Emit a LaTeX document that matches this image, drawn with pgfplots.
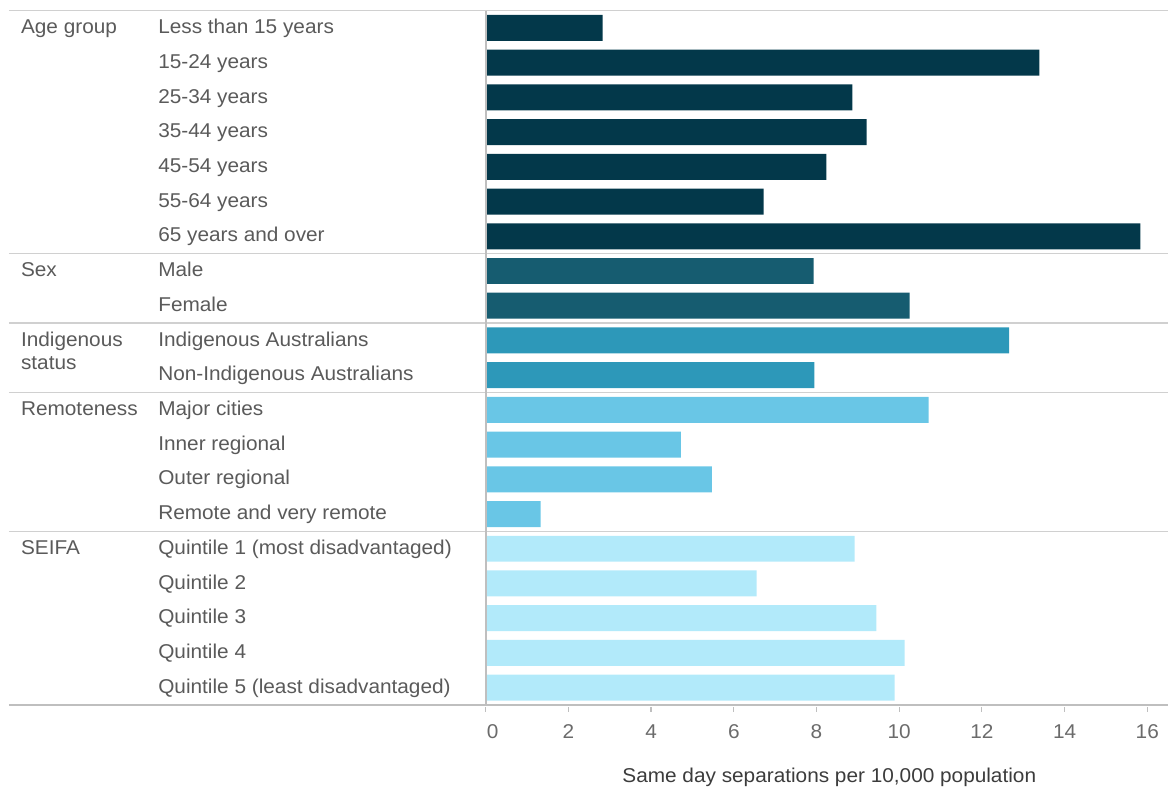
\documentclass[border=0pt]{standalone}
\usepackage{fontspec}
\setmainfont{Liberation Sans}[FakeStretch=1.04]
\usepackage{pgfplots}
\pgfplotsset{compat=1.18}
\definecolor{cAge}{HTML}{03384A}
\definecolor{cSex}{HTML}{165C70}
\definecolor{cInd}{HTML}{2D98B9}
\definecolor{cRem}{HTML}{69C6E6}
\definecolor{cSei}{HTML}{B2EAFA}
\definecolor{txt}{HTML}{5A5A5A}
\definecolor{tickc}{HTML}{6B6B6B}
\definecolor{lab}{HTML}{3C3C3C}
\definecolor{sep}{HTML}{D0D0D0}
\definecolor{axl}{HTML}{BFBFBF}
\begin{document}
\begin{tikzpicture}[font=\fontsize{10pt}{12pt}\selectfont]
\begin{axis}[
  scale only axis, width=341.5pt, height=347.4pt,
  xmin=0, xmax=16.507, ymin=-0.5, ymax=19.5,
  axis x line=bottom, axis y line=none,
  x axis line style={draw=none},
  xtick={0,2,...,16}, ytick=\empty,
  xticklabels={\hspace*{7pt}0,2,4,6,8,10,12,14,16},
  tick align=outside, major tick length=2.5pt,
  xtick style={draw=axl, line width=0.6pt, yshift=-1pt},
  xticklabel style={text=tickc, yshift=-4pt, font=\fontsize{10pt}{12pt}\selectfont},
  /pgf/number format/assume math mode=true,
  xlabel={Same day separations per 10,000 population},
  xlabel style={at={(rel axis cs:0.5034,0)}, anchor=base, yshift=-39pt, text=lab, font=\fontsize{10pt}{12pt}\selectfont},
  xbar, bar width=13pt, bar shift=0pt,
  clip=false,
]
\addplot[fill=cAge, draw=none] coordinates {(2.83,19) (13.39,18) (8.87,17) (9.21,16) (8.24,15) (6.72,14) (15.83,13)};
\addplot[fill=cSex, draw=none] coordinates {(7.93,12) (10.25,11)};
\addplot[fill=cInd, draw=none] coordinates {(12.66,10) (7.95,9)};
\addplot[fill=cRem, draw=none] coordinates {(10.71,8) (4.72,7) (5.47,6) (1.33,5)};
\addplot[fill=cSei, draw=none] coordinates {(8.92,4) (6.55,3) (9.45,2) (10.13,1) (9.89,0)};

% separators
\draw[sep, line width=0.75pt] (axis cs:-11.53,19.5) -- (axis cs:16.507,19.5);
\draw[sep, line width=0.75pt] (axis cs:-11.53,12.5) -- (axis cs:16.507,12.5);
\draw[sep, line width=0.75pt] (axis cs:-11.53,10.5) -- (axis cs:16.507,10.5);
\draw[sep, line width=0.75pt] (axis cs:-11.53,8.5) -- (axis cs:16.507,8.5);
\draw[sep, line width=0.75pt] (axis cs:-11.53,4.5) -- (axis cs:16.507,4.5);
\draw[axl, line width=0.75pt] (axis cs:-11.53,-0.5) -- (axis cs:16.507,-0.5);
\draw[axl, line width=1pt] (axis cs:0,19.5) -- (axis cs:0,-0.5);

% group labels
\node[anchor=base west, text=txt, inner sep=0pt, yshift=-2.8pt] at (axis cs:-11.246,19) {Age group};
\node[anchor=base west, text=txt, inner sep=0pt, yshift=-2.8pt] at (axis cs:-11.246,12) {Sex};
\node[anchor=base west, text=txt, inner sep=0pt, yshift=-2.8pt] at (axis cs:-11.246,10) {Indigenous};
\node[anchor=base west, text=txt, inner sep=0pt, yshift=-14.45pt] at (axis cs:-11.246,10) {status};
\node[anchor=base west, text=txt, inner sep=0pt, yshift=-2.8pt] at (axis cs:-11.246,8) {Remoteness};
\node[anchor=base west, text=txt, inner sep=0pt, yshift=-2.8pt] at (axis cs:-11.246,4) {SEIFA};
% categories
\node[anchor=base west, text=txt, inner sep=0pt, yshift=-2.8pt] at (axis cs:-7.927,19) {Less than 15 years};
\node[anchor=base west, text=txt, inner sep=0pt, yshift=-2.8pt] at (axis cs:-7.927,18) {15-24 years};
\node[anchor=base west, text=txt, inner sep=0pt, yshift=-2.8pt] at (axis cs:-7.927,17) {25-34 years};
\node[anchor=base west, text=txt, inner sep=0pt, yshift=-2.8pt] at (axis cs:-7.927,16) {35-44 years};
\node[anchor=base west, text=txt, inner sep=0pt, yshift=-2.8pt] at (axis cs:-7.927,15) {45-54 years};
\node[anchor=base west, text=txt, inner sep=0pt, yshift=-2.8pt] at (axis cs:-7.927,14) {55-64 years};
\node[anchor=base west, text=txt, inner sep=0pt, yshift=-2.8pt] at (axis cs:-7.927,13) {65 years and over};
\node[anchor=base west, text=txt, inner sep=0pt, yshift=-2.8pt] at (axis cs:-7.927,12) {Male};
\node[anchor=base west, text=txt, inner sep=0pt, yshift=-2.8pt] at (axis cs:-7.927,11) {Female};
\node[anchor=base west, text=txt, inner sep=0pt, yshift=-2.8pt] at (axis cs:-7.927,10) {Indigenous Australians};
\node[anchor=base west, text=txt, inner sep=0pt, yshift=-2.8pt] at (axis cs:-7.927,9) {Non-Indigenous Australians};
\node[anchor=base west, text=txt, inner sep=0pt, yshift=-2.8pt] at (axis cs:-7.927,8) {Major cities};
\node[anchor=base west, text=txt, inner sep=0pt, yshift=-2.8pt] at (axis cs:-7.927,7) {Inner regional};
\node[anchor=base west, text=txt, inner sep=0pt, yshift=-2.8pt] at (axis cs:-7.927,6) {Outer regional};
\node[anchor=base west, text=txt, inner sep=0pt, yshift=-2.8pt] at (axis cs:-7.927,5) {Remote and very remote};
\node[anchor=base west, text=txt, inner sep=0pt, yshift=-2.8pt] at (axis cs:-7.927,4) {Quintile 1 (most disadvantaged)};
\node[anchor=base west, text=txt, inner sep=0pt, yshift=-2.8pt] at (axis cs:-7.927,3) {Quintile 2};
\node[anchor=base west, text=txt, inner sep=0pt, yshift=-2.8pt] at (axis cs:-7.927,2) {Quintile 3};
\node[anchor=base west, text=txt, inner sep=0pt, yshift=-2.8pt] at (axis cs:-7.927,1) {Quintile 4};
\node[anchor=base west, text=txt, inner sep=0pt, yshift=-2.8pt] at (axis cs:-7.927,0) {Quintile 5 (least disadvantaged)};
\path (axis cs:-11.746,19.806) rectangle (axis cs:16.507,-2.93);
\end{axis}
\end{tikzpicture}
\end{document}
